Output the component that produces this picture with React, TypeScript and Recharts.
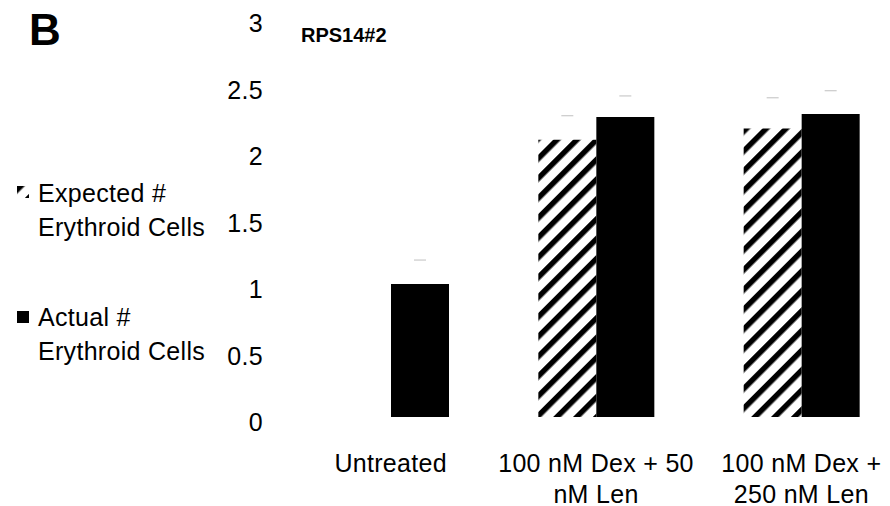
import { BarChart, Bar, XAxis, YAxis, ErrorBar } from 'recharts'

const categories = ['Untreated', '100 nM Dex + 50 nM Len', '100 nM Dex + 250 nM Len']
const categoryLines = [['Untreated'], ['100 nM Dex + 50', 'nM Len'], ['100 nM Dex +', '250 nM Len']]
const expected = [0, 2.085, 2.17]
const expectedErr = [0, 0.18, 0.23]
const actual = [1.0, 2.256, 2.278]
const actualErr = [0.18, 0.158, 0.175]
const yTicks = [0, 0.5, 1, 1.5, 2, 2.5, 3]

const font = "'Liberation Sans', Arial, sans-serif"

const data = categories.map((name, i) => ({
  name,
  expected: expected[i],
  expectedErr: expectedErr[i],
  actual: actual[i],
  actualErr: actualErr[i],
}))

function XTick({ x, y, payload }: any) {
  const lines = categoryLines[categories.indexOf(payload.value)] || [payload.value]
  return (
    <text x={x} y={y + 55} textAnchor="middle" fontSize={25} letterSpacing={0.3} fontFamily={font} fill="#000">
      {lines.map((l, i) => (
        <tspan key={i} x={x} dy={i === 0 ? 0 : 31}>{l}</tspan>
      ))}
    </text>
  )
}

function YTick({ x, y, payload }: any) {
  return (
    <text x={x - 25} y={y + 14} textAnchor="end" fontSize={25} letterSpacing={0.3} fontFamily={font} fill="#000">
      {payload.value}
    </text>
  )
}

function Hatch({ id }: { id: string }) {
  return (
    <pattern id={id} patternUnits="userSpaceOnUse" width="14" height="14" patternTransform="rotate(45)">
      <rect width="14" height="14" fill="#fff" />
      <rect x="0" y="0" width="5.5" height="14" fill="#000" />
    </pattern>
  )
}

export default function App() {
  return (
    <div style={{ position: 'relative', width: 890, height: 506, overflow: 'hidden', background: '#fff', fontFamily: font }}>
      <style>{`body{margin:0} .recharts-errorBar line:not(:first-child){display:none}`}</style>
      <BarChart width={904} height={506} data={data} barSize={58} barGap={0}
        margin={{ top: 18, right: 0, left: 0, bottom: 0 }}>
        <defs><Hatch id="hatch" /></defs>
        <XAxis dataKey="name" axisLine={false} tickLine={false} tickSize={0} tickMargin={0}
          height={89} tick={<XTick />} interval={0} />
        <YAxis domain={[0, 3]} ticks={yTicks} axisLine={false} tickLine={false} tickSize={0}
          tickMargin={0} width={288} tick={<YTick />} />
        <Bar dataKey="expected" fill="url(#hatch)" isAnimationActive={false}>
          <ErrorBar dataKey="expectedErr" width={6} stroke="#bfbfbf" strokeWidth={1} isAnimationActive={false} />
        </Bar>
        <Bar dataKey="actual" fill="#000" isAnimationActive={false}>
          <ErrorBar dataKey="actualErr" width={6} stroke="#bfbfbf" strokeWidth={1} isAnimationActive={false} />
        </Bar>
      </BarChart>

      <div style={{ position: 'absolute', left: 29, top: 4, fontSize: 44, fontWeight: 'bold', lineHeight: '52px' }}>B</div>
      <div style={{ position: 'absolute', left: 301, top: 23, fontSize: 20, fontWeight: 'bold', lineHeight: '24px' }}>RPS14#2</div>

      <div style={{ position: 'absolute', left: 17, top: 176, fontSize: 25, letterSpacing: 0.3, lineHeight: '34px' }}>
        <div style={{ position: 'relative', paddingLeft: 21 }}>
          <svg width={12} height={12} style={{ position: 'absolute', left: 0, top: 10 }}>
            <defs><Hatch id="hatchLegend" /></defs>
            <rect width={12} height={12} fill="url(#hatchLegend)" />
          </svg>
          <div>Expected #</div>
          <div>Erythroid Cells</div>
        </div>
        <div style={{ position: 'relative', paddingLeft: 21, marginTop: 56 }}>
          <svg width={12} height={12} style={{ position: 'absolute', left: 0, top: 11 }}>
            <rect width={12} height={12} fill="#000" />
          </svg>
          <div>Actual #</div>
          <div>Erythroid Cells</div>
        </div>
      </div>
    </div>
  )
}
